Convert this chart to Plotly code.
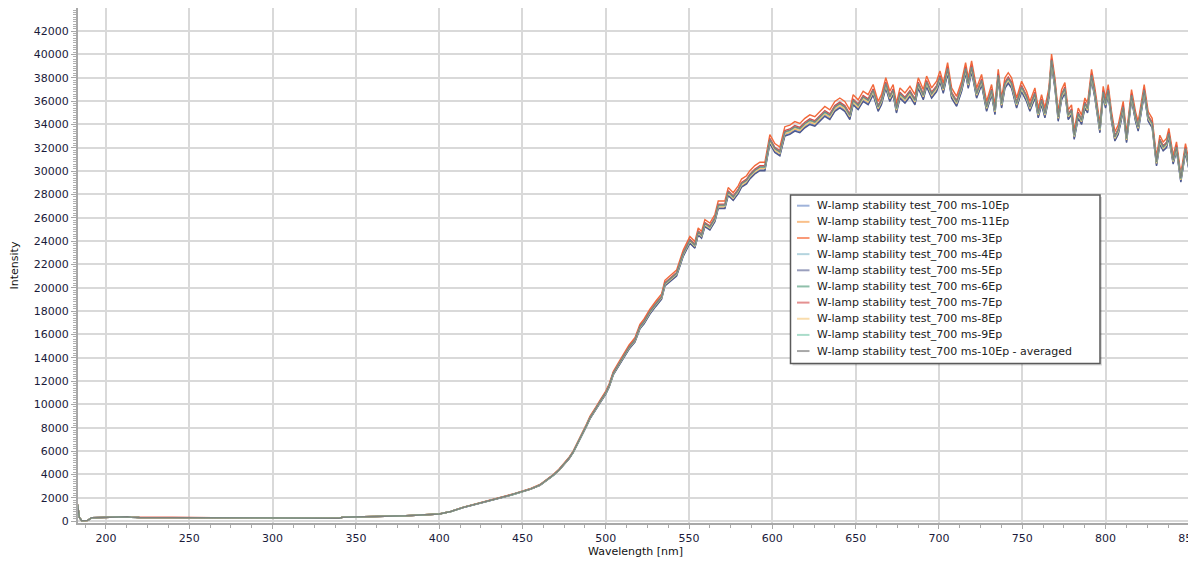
import plotly.graph_objects as go

# ---- data ----
wavelength = [183.0, 184.0, 185.5, 189.0, 191.5, 195.0, 200.0, 205.0, 210.0, 213.0, 215.0, 220.0,
              240.0, 260.0, 265.0, 280.0, 300.0, 320.0, 340.0, 342.0, 360.0, 380.0, 400.0,
              407.0, 414.5, 421.0, 428.5, 434.0, 440.5, 445.0, 450.0, 455.0, 460.5, 464.0,
              468.5, 472.0, 475.5, 478.0, 480.5, 482.5, 484.5, 486.5, 488.5, 490.5, 492.5,
              494.5, 496.5, 500.0, 502.0, 504.5, 508.0, 511.5, 514.0, 517.5, 520.5, 523.0,
              526.5, 530.0, 533.5, 535.5, 539.0, 542.5, 546.5, 550.5, 553.5, 555.5, 557.5,
              559.5, 562.5, 565.5, 567.5, 571.5, 573.5, 576.5, 579.5, 581.5, 584.5, 586.5,
              589.5, 592.5, 595.5, 598.5, 601.5, 604.5, 607.5, 610.5, 613.5, 616.5, 619.5,
              622.5, 625.5, 628.5, 631.5, 634.5, 637.5, 640.5, 643.5, 646.5, 648.5, 651.5,
              654.5, 657.5, 660.5, 663.5, 665.5, 668.1, 670.5, 672.5, 674.5, 676.6, 679.6,
              682.6, 685.6, 687.6, 690.6, 692.6, 695.6, 698.6, 700.6, 702.6, 705.2, 707.6,
              710.6, 713.6, 716.0, 717.6, 719.6, 722.6, 725.6, 728.6, 731.6, 733.6, 735.6,
              737.6, 739.6, 741.6, 743.6, 746.6, 749.6, 752.6, 754.6, 757.6, 759.6, 761.6,
              763.6, 766.0, 767.6, 769.6, 771.6, 773.6, 775.6, 777.6, 779.6, 781.2, 783.6,
              785.6, 787.6, 789.2, 791.6, 793.6, 795.6, 796.6, 798.6, 800.0, 801.6, 803.6,
              805.6, 807.6, 810.6, 812.6, 815.6, 818.0, 819.6, 823.2, 825.6, 828.0, 830.6,
              832.6, 834.6, 836.6, 838.0, 840.6, 842.6, 845.2, 848.0, 850.0, 851.6, 852.5]

intensity_avg = [1400, 300, 20, 50, 280, 300, 330, 360, 370, 360, 330, 300,
                 295, 290, 235, 230, 230, 235, 240, 320, 370, 450, 600,
                 820, 1170, 1400, 1660, 1880, 2140, 2320, 2510, 2760, 3090, 3450,
                 3940, 4400, 4940, 5400, 5940, 6480, 7090, 7650, 8230, 8850, 9350,
                 9750, 10220, 11000, 11600, 12660, 13500, 14370, 14900, 15510, 16650, 17100,
                 17940, 18600, 19220, 20370, 20800, 21230, 22940, 24080, 23650, 24800, 24510,
                 25510, 25220, 25940, 27080, 27080, 28220, 27790, 28370, 28940, 29220, 29650,
                 30080, 30360, 30360, 32700, 31940, 31650, 33370, 33510, 33800, 33650, 34080,
                 34370, 34220, 34650, 35080, 34800, 35510, 35800, 35510, 34800, 36080, 35650,
                 36370, 36080, 36940, 35510, 36080, 37510, 36370, 36940, 35370, 36650, 36220,
                 36790, 36080, 37510, 36510, 37650, 36650, 37220, 38080, 37080, 38800, 36650,
                 35940, 37220, 38800, 37510, 38940, 36650, 37790, 35510, 36940, 35220, 38220,
                 35800, 37510, 37940, 37510, 35800, 37220, 36370, 35510, 36650, 34940, 36080,
                 34940, 36650, 39510, 37510, 34650, 36510, 37100, 34800, 35220, 33080, 34940,
                 34370, 35800, 35370, 38220, 36650, 34650, 33650, 36790, 35800, 36940, 34650,
                 32940, 33510, 35510, 32800, 36510, 34650, 33800, 36940, 34650, 34080, 30790,
                 32650, 32080, 32370, 33230, 30940, 32080, 29370, 31940, 30510, 28370, 28000]

series_names = ["W-lamp stability test_700 ms-10Ep",
                "W-lamp stability test_700 ms-11Ep",
                "W-lamp stability test_700 ms-3Ep",
                "W-lamp stability test_700 ms-4Ep",
                "W-lamp stability test_700 ms-5Ep",
                "W-lamp stability test_700 ms-6Ep",
                "W-lamp stability test_700 ms-7Ep",
                "W-lamp stability test_700 ms-8Ep",
                "W-lamp stability test_700 ms-9Ep",
                "W-lamp stability test_700 ms-10Ep - averaged"]

series_gain = [0.991, 0.995, 1.013, 0.997, 0.989, 0.998, 1.003, 0.996, 0.999, 1.000]

series_colors = ["#6f8fc8", "#f5a04a", "#f2683a", "#8fc1d4", "#4f5a8f",
                 "#4f9a7a", "#d84a4a", "#f5c97a", "#7fcfb5", "#7d827d"]
legend_colors = ["#9fb3da", "#f9c08a", "#f99a78", "#b4d4de", "#9a9fbd",
                 "#8fbfaa", "#e49090", "#f9dcac", "#aadcca", "#a8a8a8"]

# ---- geometry (page has an 8px body margin, so work in window pixels) ----
OFF = 8
W, H = 1196 - OFF, 561 - OFF
L_w, R_w, T_w, B_w = 78, 1193, 8, 523          # plot area in window pixels
mL, mR, mT, mB = L_w - OFF, W - (R_w - OFF), T_w - OFF, H - (B_w - OFF)

fig = go.Figure()
for name, g, col in zip(series_names, series_gain, series_colors):
    fig.add_trace(go.Scatter(
        x=wavelength, y=[v * g for v in intensity_avg],
        mode="lines", name=name, showlegend=False,
        line=dict(color=col, width=1.4)))

tick_font = dict(family="DejaVu Sans", size=11, color="#1a1a3a")

fig.update_layout(
    width=W, height=H,
    margin=dict(l=mL, r=mR, t=mT, b=mB, pad=0),
    paper_bgcolor="white", plot_bgcolor="white",
    font=dict(family="DejaVu Sans", size=11, color="#222222"),
    showlegend=False,
)
fig.update_xaxes(
    range=[183.2, 852.5], tick0=200, dtick=50, automargin=False,
    ticklabeloverflow="allow",
    showgrid=True, gridcolor="#d9d9d9", gridwidth=1.5,
    showline=True, linecolor="#a8a8a8", linewidth=2,
    ticks="outside", ticklen=4, tickcolor="#a8a8a8",
    minor=dict(ticks="outside", ticklen=3, dtick=12.5, tick0=200,
               tickcolor="#a8a8a8", showgrid=False),
    zeroline=False, tickfont=tick_font,
    title=dict(text="Wavelength [nm]", font=dict(size=11, color="#111111"), standoff=2),
)
fig.update_yaxes(
    range=[-170, 43980], tick0=0, dtick=2000, tickformat="d", automargin=False,
    showgrid=True, gridcolor="#d9d9d9", gridwidth=1.5,
    showline=True, linecolor="#a8a8a8", linewidth=2,
    ticks="outside", ticklen=5, tickcolor="#a8a8a8",
    minor=dict(ticks="outside", ticklen=3, dtick=200,
               tickcolor="#b0b0b0", showgrid=False),
    zeroline=False, tickfont=tick_font,
    title=dict(text="Intensity", font=dict(size=11, color="#111111"), standoff=19),
)

# ---- legend box (window pixels -> paper coordinates) ----
def px(xw):
    return (xw - L_w) / (R_w - L_w)

def py(yw):
    return (B_w - yw) / (B_w - T_w)

box_x0, box_x1, box_y0, box_y1 = 790.5, 1100, 195, 363.5
fig.add_shape(type="rect", xref="paper", yref="paper",
              x0=px(box_x0 + 2), x1=px(box_x1 + 2), y0=py(box_y1 + 2), y1=py(box_y0 + 2),
              line=dict(width=0), fillcolor="rgba(0,0,0,0.15)", layer="above")
fig.add_shape(type="rect", xref="paper", yref="paper",
              x0=px(box_x0), x1=px(box_x1), y0=py(box_y1), y1=py(box_y0),
              line=dict(color="#5a5a5a", width=1.5), fillcolor="white", layer="above")

row0, row_step = 205.7, 16.15
for i, (name, col) in enumerate(zip(series_names, legend_colors)):
    yc = row0 + i * row_step
    fig.add_shape(type="line", xref="paper", yref="paper",
                  x0=px(797), x1=px(809.5), y0=py(yc), y1=py(yc),
                  line=dict(color=col, width=2), layer="above")
    fig.add_annotation(xref="paper", yref="paper", x=px(815), y=py(yc),
                       text=name, showarrow=False, xanchor="left", yanchor="middle",
                       font=dict(family="DejaVu Sans", size=11, color="#222222"))

fig.write_html("out.html")
